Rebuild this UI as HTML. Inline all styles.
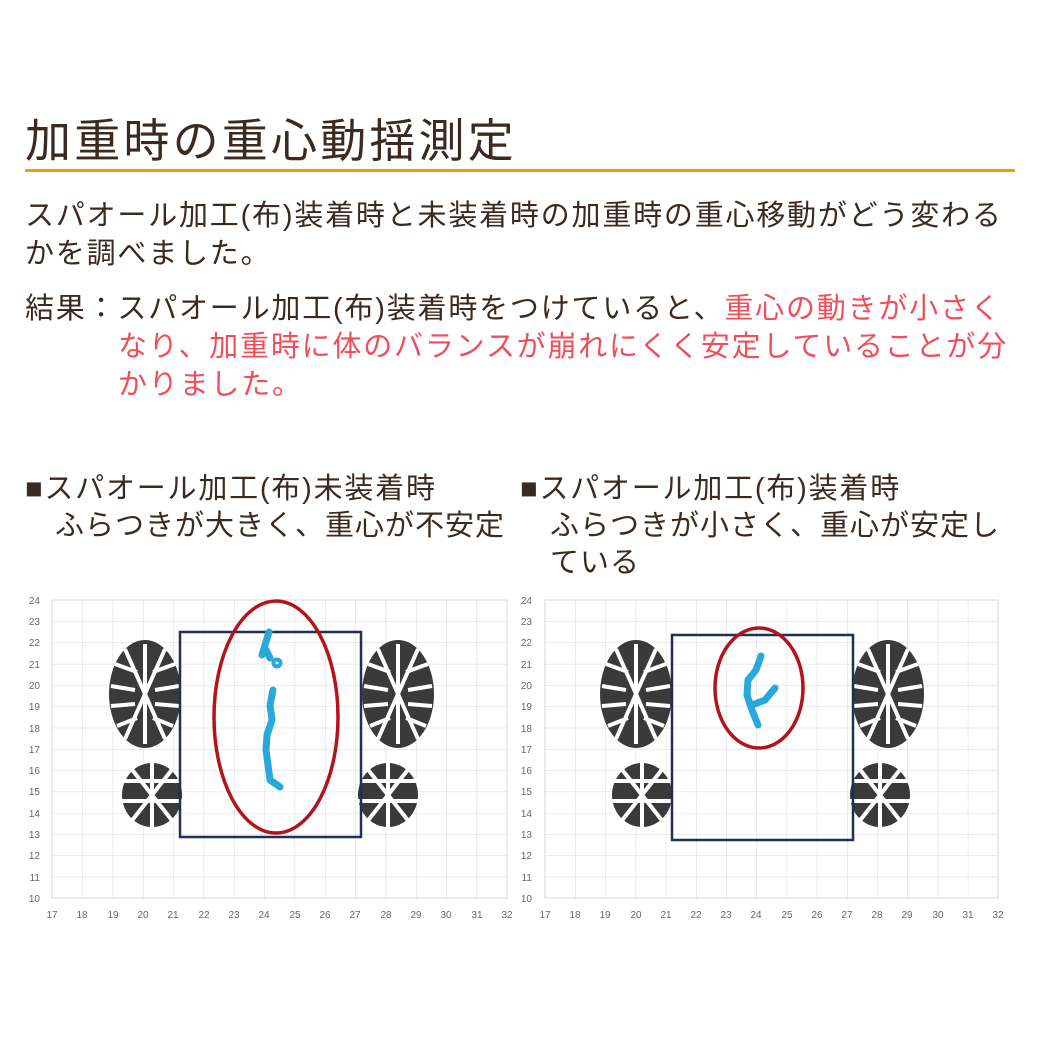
<!DOCTYPE html>
<html><head><meta charset="utf-8"><style>
body{margin:0;width:1040px;height:1040px;background:#fff;position:relative;overflow:hidden;font-family:"Liberation Sans","Noto Sans CJK JP",sans-serif;color:#3b2a20}
.t{position:absolute;white-space:nowrap}
.r{color:#ef4f5a}
.b{font-size:29px;letter-spacing:1.8px;line-height:38px}
</style></head><body>
<div class="t" style="left:25px;top:105px;font-size:46px;letter-spacing:3.2px">加重時の重心動揺測定</div>
<div style="position:absolute;left:25px;top:169px;width:990px;height:3px;background:#f0a000"></div>
<div class="t b" style="left:25px;top:197px">スパオール加工(布)装着時と未装着時の加重時の重心移動がどう変わる<br>かを調べました。</div>
<div class="t b" style="left:25px;top:290px">結果：<span style="margin-left:0px">スパオール加工(布)装着時をつけていると、</span><span class="r">重心の動きが小さく</span></div>
<div class="t b r" style="left:118px;top:328px">なり、加重時に体のバランスが崩れにくく安定していることが分<br>かりました。</div>
<div class="t b" style="left:25px;top:471px;line-height:37px">■スパオール加工(布)未装着時<br><span style="margin-left:30px;letter-spacing:1px">ふらつきが大きく、重心が不安定</span></div>
<div class="t b" style="left:520px;top:471px;line-height:37px">■スパオール加工(布)装着時<br><span style="margin-left:30px;letter-spacing:1px">ふらつきが小さく、重心が安定し</span><br><span style="margin-left:30px;letter-spacing:1px">ている</span></div>
<svg width="1040" height="1040" style="position:absolute;left:0;top:0" font-family="Liberation Sans" font-size="10" fill="#666">
<defs>
<pattern id="gl" x="52" y="600" width="30.33" height="21.29" patternUnits="userSpaceOnUse"><path d="M0 0H30.33M0 0V21.29" stroke="#d8d8d8" stroke-width="1" fill="none"/></pattern>
<pattern id="gr" x="545" y="600" width="30.2" height="21.29" patternUnits="userSpaceOnUse"><path d="M0 0H30.2M0 0V21.29" stroke="#d8d8d8" stroke-width="1" fill="none"/></pattern>
<g id="fore"><ellipse cx="0" cy="0" rx="36" ry="54" fill="#3a3a3a"/><path d="M-30-30L-8-22M-34-8L-10-4M-34 12L-10 10M-28 32L-8 24M30-30L8-22M34-8L10-4M34 12L10 10M28 32L8 24M0-50V50M-20-45L20 45M20-45L-20 45" stroke="#fff" stroke-width="4"/></g>
<g id="heel"><ellipse cx="0" cy="0" rx="30" ry="32" fill="#3a3a3a"/><path d="M-30-14H30M-30 6H30M0-32V32M-22-28L22 28M22-28L-22 28" stroke="#fff" stroke-width="4"/></g>
</defs>
<rect x="52" y="600" width="455" height="298" fill="url(#gl)" stroke="#d8d8d8"/>
<rect x="545" y="600" width="453" height="298" fill="url(#gr)" stroke="#d8d8d8"/>
<g text-anchor="end">
<text x="40" y="604">24</text><text x="40" y="625">23</text><text x="40" y="646">22</text><text x="40" y="668">21</text><text x="40" y="689">20</text><text x="40" y="710">19</text><text x="40" y="732">18</text><text x="40" y="753">17</text><text x="40" y="774">16</text><text x="40" y="795">15</text><text x="40" y="817">14</text><text x="40" y="838">13</text><text x="40" y="859">12</text><text x="40" y="881">11</text><text x="40" y="902">10</text>
<text x="532" y="604">24</text><text x="532" y="625">23</text><text x="532" y="646">22</text><text x="532" y="668">21</text><text x="532" y="689">20</text><text x="532" y="710">19</text><text x="532" y="732">18</text><text x="532" y="753">17</text><text x="532" y="774">16</text><text x="532" y="795">15</text><text x="532" y="817">14</text><text x="532" y="838">13</text><text x="532" y="859">12</text><text x="532" y="881">11</text><text x="532" y="902">10</text>
</g>
<g text-anchor="middle">
<text x="52" y="918">17</text><text x="82" y="918">18</text><text x="113" y="918">19</text><text x="143" y="918">20</text><text x="173" y="918">21</text><text x="204" y="918">22</text><text x="234" y="918">23</text><text x="264" y="918">24</text><text x="295" y="918">25</text><text x="325" y="918">26</text><text x="355" y="918">27</text><text x="386" y="918">28</text><text x="416" y="918">29</text><text x="446" y="918">30</text><text x="477" y="918">31</text><text x="507" y="918">32</text>
<text x="545" y="918">17</text><text x="575" y="918">18</text><text x="605" y="918">19</text><text x="636" y="918">20</text><text x="666" y="918">21</text><text x="696" y="918">22</text><text x="726" y="918">23</text><text x="756" y="918">24</text><text x="787" y="918">25</text><text x="817" y="918">26</text><text x="847" y="918">27</text><text x="877" y="918">28</text><text x="907" y="918">29</text><text x="938" y="918">30</text><text x="968" y="918">31</text><text x="998" y="918">32</text>
</g>
<use href="#fore" x="145" y="694"/><use href="#heel" x="152" y="795"/>
<use href="#fore" x="398" y="694"/><use href="#heel" x="388" y="795"/>
<use href="#fore" x="636" y="694"/><use href="#heel" x="642" y="795"/>
<use href="#fore" x="888" y="694"/><use href="#heel" x="880" y="795"/>
<rect x="180" y="632" width="181" height="205" fill="none" stroke="#1e2f5a" stroke-width="2.5"/>
<rect x="672" y="635" width="181" height="205" fill="none" stroke="#1e2f5a" stroke-width="2.5"/>
<g stroke="#29a8dc" stroke-width="7" fill="none" stroke-linecap="round" stroke-linejoin="round">
<path d="M269 632L265 645L262 655L266 650L270 658"/><circle cx="277" cy="663" r="2"/>
<path d="M273 690L270 705L272 720L267 735L266 750L268 765L270 780L280 787L273 782"/>
<path d="M761 656L756 670L748 680L747 695L752 710L758 725M752 705L765 700L775 688"/>
</g>
<ellipse cx="276" cy="717" rx="62" ry="116" fill="none" stroke="#b3141c" stroke-width="3.5"/>
<ellipse cx="759" cy="688" rx="44" ry="60" fill="none" stroke="#b3141c" stroke-width="3.5"/>
</svg>
</body></html>
